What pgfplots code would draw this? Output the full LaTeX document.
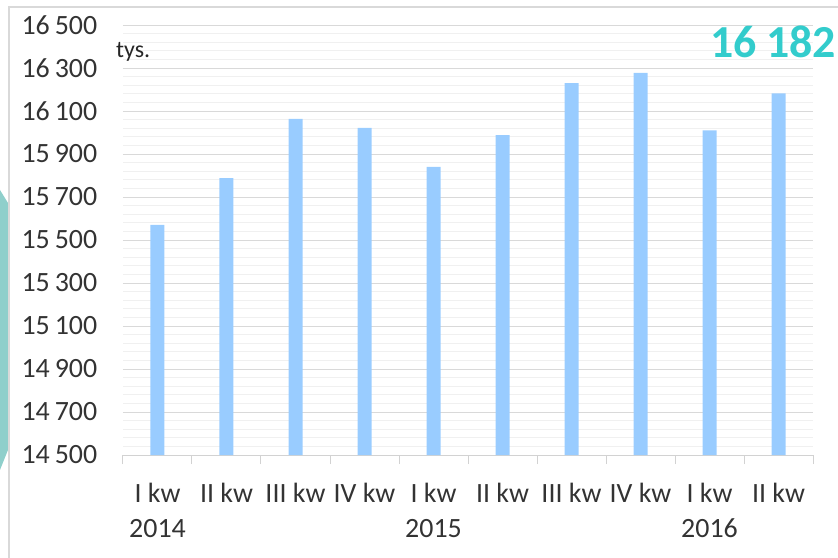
\documentclass[border=0pt]{standalone}
\usepackage{fontspec}
\setmainfont{Carlito}
\usepackage{pgfplots}
\pgfplotsset{compat=1.18}

\definecolor{barblue}{RGB}{153,204,255}
\definecolor{tealtxt}{RGB}{51,204,204}
\definecolor{tealdeco}{RGB}{143,207,203}

\begin{document}
\begin{tikzpicture}
\begin{axis}[
    scale only axis,
    width=690bp, height=430bp,
    xmin=0.5, xmax=10.5,
    ymin=14500, ymax=16500,
    ytick={14500,14700,...,16500},
    scaled y ticks=false,
    yticklabel style={/pgf/number format/fixed, /pgf/number format/precision=0},
    minor y tick num=4,
    ymajorgrids, yminorgrids,
    major grid style={draw=gray!30, line width=0.8bp},
    minor grid style={draw=gray!12, line width=0.8bp},
    axis lines*=left,
    y axis line style={draw=none},
    ytick style={draw=none},
    minor y tick style={draw=none},
    x axis line style={draw=gray!35, line width=1bp},
    xtick={1,...,10},
    major x tick style={draw=none},
    minor xtick={0.5,1.5,...,10.5},
    minor x tick style={draw=gray!35, line width=1bp},
    tick align=outside,
    minor tick length=9bp,
    xticklabels={{I kw\\2014},{II kw},{III kw},{IV kw},{I kw\\2015},{II kw},{III kw},{IV kw},{I kw\\2016},{II kw}},
    xticklabel style={font=\fontsize{28}{35}\selectfont, align=center, anchor=north, yshift=-20bp, text=black!80},
    yticklabel style={font=\fontsize{28}{34}\selectfont, anchor=east, xshift=-18bp, text=black!80},
    /pgf/number format/assume math mode=true,
    /pgf/number format/1000 sep={\hspace{0.18em}},
    ybar, bar width=14bp, bar shift=0pt,
]
\addplot[fill=barblue, draw=none] coordinates {
(1,15570) (2,15788) (3,16063) (4,16021) (5,15840)
(6,15988) (7,16230) (8,16277) (9,16010) (10,16182)
};
\end{axis}
\path[use as bounding box] (-123bp,-103bp) rectangle (715bp,455bp);
\fill[tealdeco] (-123bp,265bp) -- (-115bp,252bp) -- (-115bp,5bp) -- (-123bp,-15bp) -- cycle;
\draw[gray!30, line width=1.5bp] (-114bp,-103bp) -- (-114bp,448bp) -- (715bp,448bp);
\node[anchor=base west, inner sep=0pt, font=\fontsize{24}{28}\selectfont, text=black!85] at (-7bp,397bp) {tys.};
\node[anchor=east, inner sep=0pt, font=\fontsize{46}{50}\selectfont\bfseries, text=tealtxt] at (713bp,413bp) {16\hspace{0.2em}182};
\end{tikzpicture}
\end{document}
